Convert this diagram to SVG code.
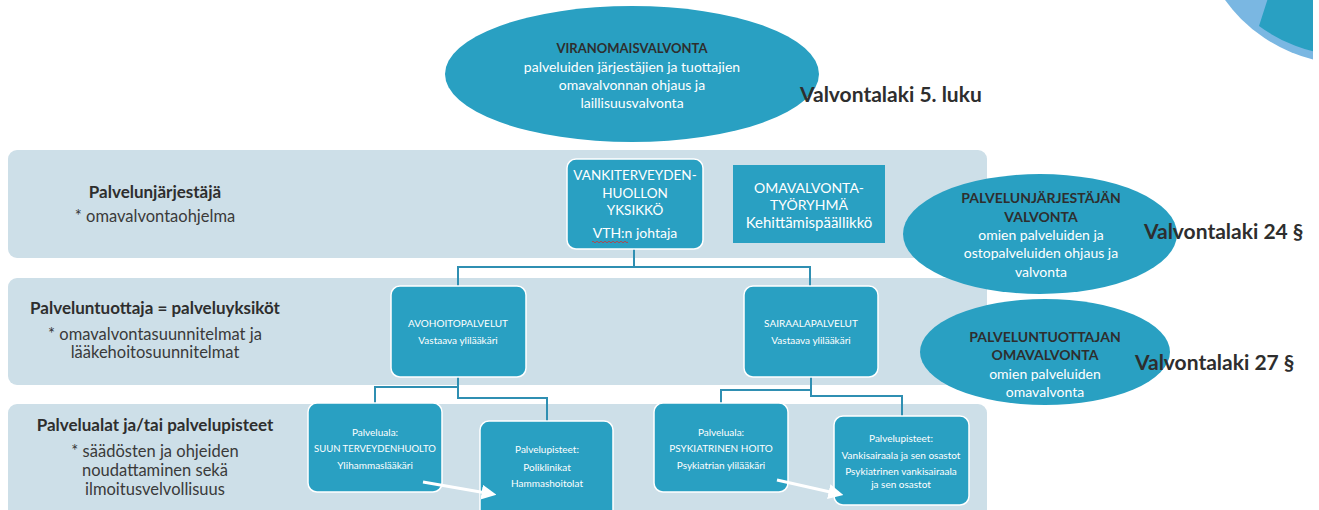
<svg xmlns="http://www.w3.org/2000/svg" width="1319" height="510" viewBox="0 0 1319 510">
<defs>
<style>
.band{fill:#cddfe8}
.teal{fill:#29a0c2}
.box{fill:#29a0c2;stroke:#ffffff;stroke-width:1.5}
.wt{fill:#ffffff;font-family:Lato,"Open Sans",sans-serif;text-anchor:middle}
.dk{fill:#2e2e2e;font-family:Lato,"Open Sans",sans-serif;text-anchor:middle}
.b{font-weight:bold}
.law{fill:#2e2e2e;font-family:Lato,"Open Sans",sans-serif;font-weight:bold;font-size:21px}
.side{fill:#3a3a3a;font-family:Lato,"Open Sans",sans-serif;text-anchor:middle;font-size:16.5px}
.sideb{fill:#2e2e2e;font-family:Lato,"Open Sans",sans-serif;text-anchor:middle;font-size:17px;font-weight:bold}
.conn{fill:none;stroke:#2f8fb2;stroke-width:2}
.arr{fill:none;stroke:#ffffff;stroke-width:3}
</style>
<marker id="ah" markerWidth="5" markerHeight="5" refX="3.5" refY="2.5" orient="auto" markerUnits="strokeWidth">
<path d="M0,0 L5,2.5 L0,5 z" fill="#ffffff"/>
</marker>
<clipPath id="clipc"><rect x="0" y="0" width="1313" height="510"/></clipPath>
</defs>

<g id="corner" clip-path="url(#clipc)">
<circle cx="1350" cy="-90" r="154" fill="#7ab7e2"/>
<path d="M1350,-90 L1268,-2 L1259,26 A154,154 0 0 0 1504,-90 Z" fill="#29a0c2"/>
</g>

<g id="bands">
<rect class="band" x="8" y="150" width="979" height="108" rx="9"/>
<rect class="band" x="8" y="278" width="979" height="107" rx="9"/>
<rect class="band" x="8" y="404" width="979" height="120" rx="9"/>
</g>

<g id="side-labels">
<text class="sideb" x="155" y="198">Palvelunjärjestäjä</text>
<text class="side" x="155" y="222">* omavalvontaohjelma</text>
<text class="sideb" x="155" y="314">Palveluntuottaja = palveluyksiköt</text>
<text class="side" x="155" y="340">* omavalvontasuunnitelmat ja</text>
<text class="side" x="155" y="358">lääkehoitosuunnitelmat</text>
<text class="sideb" x="155" y="431">Palvelualat ja/tai palvelupisteet</text>
<text class="side" x="155" y="457">* säädösten ja ohjeiden</text>
<text class="side" x="155" y="476">noudattaminen sekä</text>
<text class="side" x="155" y="495">ilmoitusvelvollisuus</text>
</g>

<g id="connectors">
<path class="conn" d="M634,249 V267 M458,286 V267 H810 V286"/>
<path class="conn" d="M458,377 V387 H375 V403 M458,387 V398 H547 V421"/>
<path class="conn" d="M811,377 V390 H721 V403 M811,390 V396 H902 V416"/>
</g>

<g id="viranomaisvalvonta">
<ellipse class="teal" cx="632" cy="74" rx="187" ry="68"/>
<text class="dk b" x="632" y="53" font-size="13">VIRANOMAISVALVONTA</text>
<text class="wt" x="632" y="72" font-size="14">palveluiden järjestäjien ja tuottajien</text>
<text class="wt" x="632" y="90" font-size="14">omavalvonnan ohjaus ja</text>
<text class="wt" x="632" y="108" font-size="14">laillisuusvalvonta</text>
<text class="law" x="800" y="102">Valvontalaki 5. luku</text>
</g>

<g id="vankiterveydenhuolto">
<rect class="box" x="567" y="159" width="136" height="90" rx="9"/>
<text class="wt" x="635" y="180" font-size="13.5">VANKITERVEYDEN-</text>
<text class="wt" x="635" y="198" font-size="13.5">HUOLLON</text>
<text class="wt" x="635" y="215" font-size="13.5">YKSIKKÖ</text>
<text class="wt" x="635" y="238" font-size="14">VTH:n johtaja</text>
<path d="M592,242 q1,-1.5 2,0 t2,0 t2,0 t2,0 t2,0 t2,0 t2,0 t2,0 t2,0 t2,0 t2,0 t2,0 t2,0 t2,0 t2,0 t2,0 t2,0 t2,0" fill="none" stroke="#d03030" stroke-width="0.8"/>
</g>

<g id="omavalvontatyoryhma">
<rect class="teal" x="733" y="165" width="152" height="78"/>
<text class="wt" x="809" y="193" font-size="14">OMAVALVONTA-</text>
<text class="wt" x="809" y="210" font-size="14">TYÖRYHMÄ</text>
<text class="wt" x="809" y="228" font-size="15">Kehittämispäällikkö</text>
</g>

<g id="avohoito">
<rect class="box" x="391" y="286" width="135" height="91" rx="9"/>
<text class="wt" x="458" y="327" font-size="10">AVOHOITOPALVELUT</text>
<text class="wt" x="458" y="344" font-size="10">Vastaava ylilääkäri</text>
</g>

<g id="sairaala">
<rect class="box" x="744" y="286" width="134" height="91" rx="9"/>
<text class="wt" x="811" y="327" font-size="10">SAIRAALAPALVELUT</text>
<text class="wt" x="811" y="344" font-size="10">Vastaava ylilääkäri</text>
</g>

<g id="suun">
<rect class="box" x="308" y="403" width="134" height="89" rx="9"/>
<text class="wt" x="375" y="436" font-size="10">Palveluala:</text>
<text class="wt" x="375" y="452" font-size="9.5">SUUN TERVEYDENHUOLTO</text>
<text class="wt" x="375" y="469" font-size="10">Ylihammaslääkäri</text>
</g>

<g id="poliklinikat">
<rect class="box" x="480" y="421" width="133" height="100" rx="9"/>
<text class="wt" x="547" y="453" font-size="10">Palvelupisteet:</text>
<text class="wt" x="547" y="471" font-size="10">Poliklinikat</text>
<text class="wt" x="547" y="487" font-size="10">Hammashoitolat</text>
</g>

<g id="psyk">
<rect class="box" x="654" y="403" width="134" height="89" rx="9"/>
<text class="wt" x="721" y="436" font-size="10">Palveluala:</text>
<text class="wt" x="721" y="452" font-size="10">PSYKIATRINEN HOITO</text>
<text class="wt" x="721" y="469" font-size="10">Psykiatrian ylilääkäri</text>
</g>

<g id="vankisairaala">
<rect class="box" x="834" y="416" width="135" height="89" rx="9"/>
<text class="wt" x="901" y="442" font-size="10">Palvelupisteet:</text>
<text class="wt" x="901" y="459" font-size="10">Vankisairaala ja sen osastot</text>
<text class="wt" x="901" y="475" font-size="10">Psykiatrinen vankisairaala</text>
<text class="wt" x="901" y="488" font-size="10">ja sen osastot</text>
</g>

<g id="arrows">
<path class="arr" d="M423,482 L492,494" marker-end="url(#ah)"/>
<path class="arr" d="M777,480 L839,494" marker-end="url(#ah)"/>
</g>

<g id="jarjestajan-valvonta">
<ellipse class="teal" cx="1040" cy="234" rx="137" ry="60"/>
<text class="dk b" x="1041" y="203" font-size="14">PALVELUNJÄRJESTÄJÄN</text>
<text class="dk b" x="1041" y="222" font-size="14">VALVONTA</text>
<text class="wt" x="1041" y="240" font-size="14">omien palveluiden ja</text>
<text class="wt" x="1041" y="258" font-size="14">ostopalveluiden ohjaus ja</text>
<text class="wt" x="1041" y="277" font-size="14">valvonta</text>
<text class="law" x="1144" y="239">Valvontalaki 24 §</text>
</g>

<g id="tuottajan-omavalvonta">
<ellipse class="teal" cx="1045" cy="352" rx="125" ry="53"/>
<text class="dk b" x="1045" y="342" font-size="14">PALVELUNTUOTTAJAN</text>
<text class="dk b" x="1045" y="360" font-size="14">OMAVALVONTA</text>
<text class="wt" x="1045" y="379" font-size="14">omien palveluiden</text>
<text class="wt" x="1045" y="397" font-size="14">omavalvonta</text>
<text class="law" x="1135" y="370">Valvontalaki 27 §</text>
</g>
</svg>
